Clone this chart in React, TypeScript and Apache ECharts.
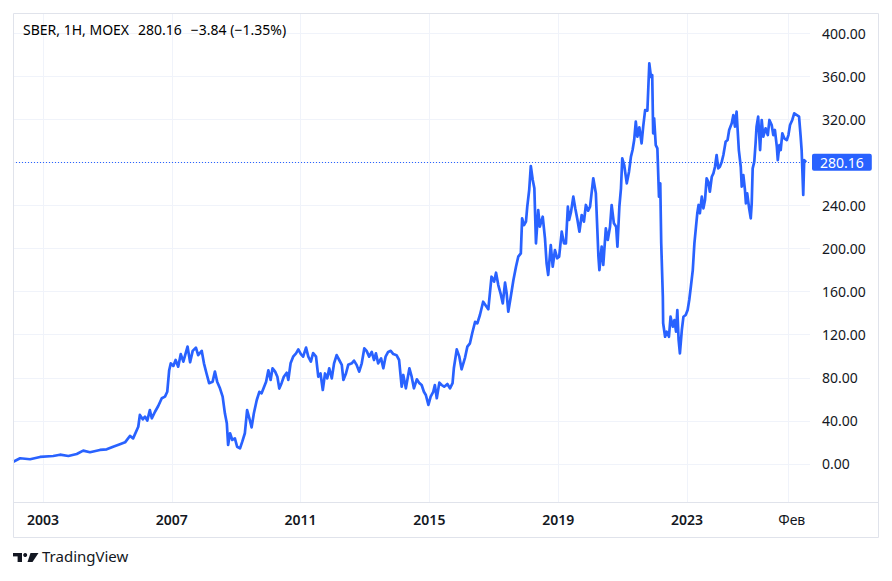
import React, { useEffect, useRef } from "react";
import * as echarts from "echarts";

// Time position (decimal years) of each sampled close
const years = [
  2002.08, 2002.29, 2002.6, 2002.91, 2003.32, 2003.53, 2003.79, 2004.05, 2004.25, 2004.46,
  2004.77, 2004.98, 2005.18, 2005.39, 2005.55, 2005.7, 2005.8, 2005.96, 2006.01, 2006.1,
  2006.17, 2006.24, 2006.32, 2006.38, 2006.48, 2006.58, 2006.69, 2006.79, 2006.86, 2006.92,
  2006.97, 2007.05, 2007.12, 2007.2, 2007.28, 2007.36, 2007.49, 2007.57, 2007.65, 2007.75,
  2007.82, 2007.93, 2008.0, 2008.08, 2008.16, 2008.27, 2008.34, 2008.41, 2008.5, 2008.58,
  2008.65, 2008.71, 2008.75, 2008.81, 2008.88, 2008.96, 2009.03, 2009.12, 2009.19, 2009.27,
  2009.34, 2009.41, 2009.48, 2009.55, 2009.64, 2009.72, 2009.79, 2009.86, 2009.93, 2010.0,
  2010.07, 2010.13, 2010.21, 2010.28, 2010.34, 2010.41, 2010.48, 2010.57, 2010.62, 2010.69,
  2010.77, 2010.86, 2010.93, 2011.01, 2011.08, 2011.17, 2011.24, 2011.32, 2011.39, 2011.48,
  2011.55, 2011.62, 2011.69, 2011.76, 2011.83, 2011.89, 2011.97, 2012.04, 2012.12, 2012.2,
  2012.28, 2012.33, 2012.41, 2012.48, 2012.59, 2012.66, 2012.74, 2012.82, 2012.9, 2012.98,
  2013.05, 2013.13, 2013.21, 2013.28, 2013.34, 2013.41, 2013.5, 2013.57, 2013.64, 2013.72,
  2013.8, 2013.88, 2013.98, 2014.06, 2014.14, 2014.19, 2014.27, 2014.38, 2014.45, 2014.52,
  2014.61, 2014.69, 2014.76, 2014.83, 2014.89, 2014.97, 2015.04, 2015.12, 2015.17, 2015.23,
  2015.31, 2015.38, 2015.46, 2015.56, 2015.64, 2015.72, 2015.76, 2015.85, 2015.93, 2016.0,
  2016.11, 2016.18, 2016.26, 2016.33, 2016.42, 2016.49, 2016.57, 2016.67, 2016.76, 2016.83,
  2016.93, 2017.01, 2017.07, 2017.14, 2017.21, 2017.28, 2017.35, 2017.4, 2017.45, 2017.52,
  2017.61, 2017.69, 2017.76, 2017.84, 2017.88, 2017.94, 2018.0, 2018.04, 2018.1, 2018.15,
  2018.21, 2018.26, 2018.31, 2018.38, 2018.43, 2018.52, 2018.59, 2018.64, 2018.69, 2018.77,
  2018.83, 2018.9, 2018.97, 2019.03, 2019.11, 2019.18, 2019.24, 2019.3, 2019.34, 2019.4,
  2019.47, 2019.53, 2019.59, 2019.66, 2019.73, 2019.8, 2019.86, 2019.93, 2019.99, 2020.09,
  2020.17, 2020.25, 2020.28, 2020.35, 2020.4, 2020.48, 2020.54, 2020.61, 2020.66, 2020.73,
  2020.8, 2020.84, 2020.9, 2020.95, 2020.99, 2021.05, 2021.13, 2021.2, 2021.26, 2021.31,
  2021.36, 2021.41, 2021.46, 2021.52, 2021.59, 2021.64, 2021.7, 2021.77, 2021.83, 2021.88,
  2021.92, 2021.95, 2021.98, 2022.03, 2022.08, 2022.13, 2022.17, 2022.2, 2022.25, 2022.26,
  2022.32, 2022.37, 2022.44, 2022.49, 2022.56, 2022.61, 2022.66, 2022.7, 2022.74, 2022.78,
  2022.84, 2022.89, 2022.96, 2023.02, 2023.07, 2023.12, 2023.18, 2023.23, 2023.28, 2023.32,
  2023.36, 2023.4, 2023.46, 2023.51, 2023.56, 2023.61, 2023.66, 2023.71, 2023.77, 2023.82,
  2023.87, 2023.92, 2023.97, 2024.02, 2024.08, 2024.13, 2024.2, 2024.26, 2024.31, 2024.39,
  2024.44, 2024.49, 2024.54, 2024.57, 2024.61, 2024.67, 2024.7, 2024.75, 2024.8, 2024.83,
  2024.87, 2024.93, 2024.98, 2025.01, 2025.04, 2025.09, 2025.13, 2025.16, 2025.21, 2025.27,
  2025.32, 2025.37, 2025.44, 2025.51, 2025.56, 2025.63, 2025.68, 2025.73, 2025.79, 2025.82,
  2025.87, 2025.91, 2025.96, 2026.02, 2026.1, 2026.15, 2026.2, 2026.27, 2026.33, 2026.41,
  2026.48, 2026.53, 2026.56, 2026.61, 2026.64, 2026.7,
];

// SBER close prices (RUB)
const prices = [
  2.1, 5.3, 4.4, 6.5, 7.4, 8.6, 7.4, 9.3, 12.4, 10.9,
  13, 13.6, 16, 18.3, 20.1, 26, 23.8, 34.6, 45.5, 41.5,
  43.9, 40.2, 50, 42.4, 48.5, 53.8, 61, 62.5, 67, 87,
  93.4, 91, 96.5, 90.3, 102, 95, 109, 94.4, 105, 108,
  101, 105, 93.4, 84, 75, 76.4, 85.7, 76.4, 70, 62.5,
  47, 37.8, 17.6, 28.5, 22.3, 23.8, 16, 14.5, 20.7, 28.5,
  50, 42.4, 34, 47, 59.4, 67, 65.6, 71, 76.4, 87,
  78, 88.8, 85.7, 81, 70, 75, 81, 84.7, 78, 93.4,
  99.6, 102.7, 106.4, 102, 99.6, 108, 99.6, 95, 103, 99.6,
  81, 84, 68.7, 84, 79.5, 88.8, 79.5, 93.4, 101, 96.5,
  92, 78, 84, 92, 93.4, 95.9, 92, 85.7, 93.4, 107.4,
  105, 99.6, 104, 96.5, 102.7, 93.4, 98, 88.8, 99.6, 104,
  105, 102, 101, 96.5, 71.7, 82.6, 70.2, 88.8, 81, 70.2,
  78.6, 75, 73.3, 67, 64, 54.8, 62.5, 67, 73.3, 61,
  75.5, 73.3, 71.7, 74.2, 70.2, 75, 88.8, 106.4, 99.6, 87.9,
  99, 108.9, 112, 121.3, 132, 130.6, 138.3, 150.6, 146.6, 143.6,
  173.8, 169.2, 177.5, 166.1, 158.4, 149.1, 168.3, 158.4, 141.3, 153.8,
  170.8, 183.1, 192.4, 195.5, 228, 221.8, 224.9, 238.8, 254.3, 276.6,
  263.6, 255.9, 204.8, 235.7, 220.2, 229.5, 209.5, 186.3, 175.4, 203.2,
  183.1, 198.6, 190.9, 192.4, 215.6, 204.8, 204.8, 238.8, 226.5, 234.2,
  248.1, 237.3, 228, 215.6, 231.1, 224.9, 240.4, 235.1, 238.8, 265.2,
  251.2, 192.4, 180, 201.7, 184.7, 218.7, 207.9, 220.2, 240.4, 223.4,
  220.2, 201.7, 238.8, 255.9, 283.7, 277.5, 260.5, 271.3, 285.3, 291.4,
  300.7, 317.7, 303.8, 312.5, 297.6, 313.1, 328.5, 327.9, 371.9, 359.4,
  361, 306.9, 320.8, 296, 293, 248.1, 260.5, 204.8, 155.3, 130.6,
  118.1, 122.8, 118.1, 136.7, 127.4, 133.6, 122.8, 142.9, 115.1, 102.7,
  124.4, 136.7, 138.3, 142.9, 152.2, 164.5, 180, 204.8, 220.2, 232.7,
  240.4, 232.7, 248.1, 237.3, 245, 265.2, 262, 252.7, 266.6, 269.8,
  275.9, 286.8, 274.4, 275.9, 280.6, 286.8, 299.1, 300.7, 310, 316.2,
  323.9, 313.1, 327, 311.6, 291.4, 275.9, 257.4, 268.2, 254.3, 241.9,
  251.2, 237.3, 228, 241.9, 274.4, 280.6, 297.6, 313.1, 322.4, 291.4,
  319.3, 303.8, 311.6, 305.3, 319.3, 314.6, 305.3, 310, 294.5, 282.1,
  296, 291.4, 306.9, 302.3, 300.7, 305.3, 314.6, 319.3, 325.5, 323.9,
  322.4, 303.8, 291.4, 249.7, 282.1, 280.16,
];

const lastPrice = 280.16;
const legendTicker = "SBER, 1H, MOEX";
const legendPrice = "280.16";
const legendChange = "\u22123.84 (\u22121.35%)";

const xTickValues = [2003, 2007, 2011, 2015, 2019, 2023, 2026.16];
const xTickLabels = ["2003", "2007", "2011", "2015", "2019", "2023", "Фев"];
const xTickIsYear = [true, true, true, true, true, true, false];
const yGridValues = [0, 40, 80, 120, 160, 200, 240, 280, 320, 360, 400];
// 280.00 is hidden under the last-price label in the reference
const yLabelValues = [0, 40, 80, 120, 160, 200, 240, 320, 360, 400];

const FONT = "'Noto Sans', 'Open Sans', sans-serif";
const BLUE = "#2962ff";
const QUOTE = "#3a6be0";
const GRID = "#f0f3fa";
const BORDER = "#e0e3eb";
const TEXT = "#131722";

export default function App() {
  const ref = useRef<HTMLDivElement>(null);

  useEffect(() => {
    if (!ref.current) return;
    const chart = echarts.init(ref.current, null, { renderer: "svg" });
    const data = years.map((y, i) => [y, prices[i]]);

    chart.setOption({
      animation: false,
      backgroundColor: "#ffffff",
      textStyle: { fontFamily: FONT },
      grid: { left: 13, right: 82, top: 13, bottom: 79, containLabel: false },
      xAxis: {
        type: "value",
        min: 2002.07,
        max: 2026.82,
        axisLine: { show: false },
        axisTick: { show: false, customValues: xTickValues },
        splitLine: { show: true, lineStyle: { color: GRID, width: 1 } },
        axisLabel: {
          customValues: xTickValues,
          margin: 10,
          formatter: (v: number) => {
            const i = xTickValues.findIndex((t) => Math.abs(t - v) < 1e-6);
            if (i < 0) return "";
            return xTickIsYear[i] ? `{y|${xTickLabels[i]}}` : `{m|${xTickLabels[i]}}`;
          },
          rich: {
            y: { fontFamily: FONT, fontSize: 14, fontWeight: 600, color: TEXT },
            m: { fontFamily: FONT, fontSize: 14, fontWeight: 400, color: TEXT, padding: [0, 0, 0, 6] },
          },
        },
      },
      yAxis: {
        type: "value",
        position: "right",
        min: -35.3,
        max: 418.6,
        axisLine: { show: false },
        axisTick: { show: false, customValues: yGridValues },
        splitLine: { show: true, lineStyle: { color: GRID, width: 1 } },
        axisLabel: {
          customValues: yLabelValues,
          margin: 12,
          color: TEXT,
          fontSize: 14,
          fontFamily: FONT,
          formatter: (v: number) => v.toFixed(2),
        },
      },
      series: [
        {
          type: "line",
          data,
          showSymbol: false,
          symbol: "none",
          lineStyle: { color: BLUE, width: 2.7, join: "round" },
          z: 3,
          markLine: {
            silent: true,
            symbol: ["none", "none"],
            lineStyle: { color: BLUE, width: 1, type: [1, 2] },
            label: {
              show: true,
              position: "end",
              distance: 2,
              formatter: lastPrice.toFixed(2),
              color: "#ffffff",
              backgroundColor: BLUE,
              padding: [2, 8, 1, 8],
              borderRadius: 2,
              fontSize: 14,
              fontFamily: FONT,
            },
            data: [{ yAxis: lastPrice }],
          },
        },
      ],
      graphic: [
        {
          type: "rect",
          shape: { x: 13.5, y: 13.5, width: 865, height: 524 },
          style: { fill: "none", stroke: BORDER, lineWidth: 1 },
          silent: true,
          z: 10,
        },
        {
          type: "line",
          shape: { x1: 13, y1: 502.5, x2: 878, y2: 502.5 },
          style: { stroke: BORDER, lineWidth: 1 },
          silent: true,
          z: 10,
        },
        {
          type: "text",
          left: 23,
          top: 22,
          style: {
            text: `{a|${legendTicker}}{b|${legendPrice}}{c|${legendChange}}`,
            rich: {
              a: { fontFamily: FONT, fontSize: 14, color: TEXT },
              b: { fontFamily: FONT, fontSize: 14, color: QUOTE, padding: [0, 0, 0, 9] },
              c: { fontFamily: FONT, fontSize: 14, color: QUOTE, padding: [0, 0, 0, 9] },
            },
          },
          z: 10,
        },
        {
          type: "group",
          left: 13,
          top: 553,
          children: [
            { type: "rect", shape: { x: 0, y: 0, width: 9, height: 3.4 }, style: { fill: TEXT } },
            { type: "rect", shape: { x: 4.6, y: 0, width: 4.4, height: 9 }, style: { fill: TEXT } },
            { type: "circle", shape: { cx: 12.2, cy: 2, r: 2 }, style: { fill: TEXT } },
            {
              type: "polygon",
              shape: { points: [[17.5, 0], [25.5, 0], [19.5, 9], [14.5, 9]] },
              style: { fill: TEXT },
            },
          ],
        },
        {
          type: "text",
          left: 42,
          top: 548,
          style: { text: "TradingView", fontFamily: FONT, fontSize: 15, fill: TEXT },
        },
      ],
    });

    return () => chart.dispose();
  }, []);

  return (
    <div
      ref={ref}
      style={{ position: "fixed", left: 0, top: 0, width: 892, height: 581, background: "#fff" }}
    />
  );
}
